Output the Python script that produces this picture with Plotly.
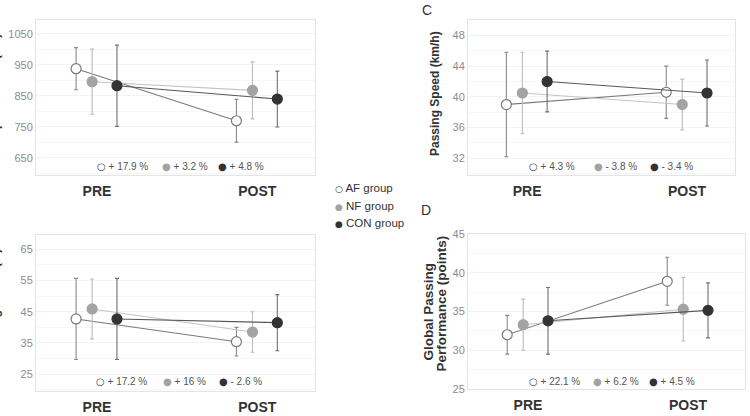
import plotly.graph_objects as go

W, H = 750, 416

groups = ["AF group", "NF group", "CON group"]
phases = ["PRE", "POST"]

# Panel A: response time (ms)
A_pre = [938, 896, 883]
A_post = [770, 868, 840]
A_pre_sd = [68, 105, 131]
A_post_sd = [69, 92, 90]
A_pct = ["+ 17.9 %", "+ 3.2 %", "+ 4.8 %"]

# Panel B: passing errors
B_pre = [42.7, 45.9, 42.7]
B_post = [35.4, 38.5, 41.5]
B_pre_sd = [13.0, 9.6, 13.0]
B_post_sd = [4.6, 6.5, 9.0]
B_pct = ["+ 17.2 %", "+ 16 %", "- 2.6 %"]

# Panel C: passing speed (km/h)
C_pre = [39.0, 40.5, 42.0]
C_post = [40.6, 39.0, 40.5]
C_pre_sd = [6.8, 5.3, 3.95]
C_post_sd = [3.4, 3.3, 4.3]
C_pct = ["+ 4.3 %", "- 3.8 %", "- 3.4 %"]

# Panel D: global passing performance (points)
D_pre = [32.0, 33.3, 33.8]
D_post = [38.9, 35.3, 35.15]
D_pre_sd = [2.5, 3.3, 4.3]
D_post_sd = [3.1, 4.1, 3.55]
D_pct = ["+ 22.1 %", "+ 6.2 %", "+ 4.5 %"]

FONT = "Liberation Sans, Arial, sans-serif"
SYMFONT = "DejaVu Sans"
offsets = [-0.13, -0.03, 0.125]
line_col = ["#7a7a7a", "#c4c4c4", "#585858"]
mk_fill = ["white", "#a3a3a3", "#333333"]
mk_line = ["#7a7a7a", "#a3a3a3", "#333333"]
err_col = ["#8a8a8a", "#bdbdbd", "#707070"]
sym_col = ["#444444", "#a3a3a3", "#333333"]
sym = ["○", "●", "●"]

panels = [
    ("A", A_pre, A_post, A_pre_sd, A_post_sd, A_pct, (36, 315, 20, 175), [595, 1095], [650, 750, 850, 950, 1050], 50,
     [-0.38, 1.36], 166.7, [98, 163, 219]),
    ("B", B_pre, B_post, B_pre_sd, B_post_sd, B_pct, (36, 315, 235, 391), [19.6, 69.6], [25, 35, 45, 55, 65], 5,
     [-0.38, 1.36], 381, [97, 164, 220]),
    ("C", C_pre, C_post, C_pre_sd, C_post_sd, C_pct, (468, 735, 20, 175), [29.83, 50], [32, 36, 40, 44, 48], 2,
     [-0.37, 1.30], 166.7, [530, 595, 651]),
    ("D", D_pre, D_post, D_pre_sd, D_post_sd, D_pct, (468, 745, 234, 389), [25, 45], [25, 30, 35, 40, 45], 2.5,
     [-0.375, 1.356], 381.7, [530, 594, 650]),
]

fig = go.Figure()
layout = dict(
    width=W, height=H, margin=dict(l=0, r=0, t=0, b=0),
    paper_bgcolor="white", plot_bgcolor="white", showlegend=False,
    template="none", font=dict(family=FONT),
)
annotations = []

for i, (name, pre, post, pre_sd, post_sd, pct, frame, yr, yt, minor, xr, pct_y, pct_x) in enumerate(panels):
    n = "" if i == 0 else str(i + 1)
    xa, ya = "x" + n, "y" + n
    x0, x1, y0, y1 = frame
    for g in range(3):
        fig.add_trace(go.Scatter(
            x=[0 + offsets[g], 1 + offsets[g]], y=[pre[g], post[g]],
            mode="lines+markers", xaxis=xa, yaxis=ya, name=groups[g],
            line=dict(color=line_col[g], width=1.1),
            marker=dict(size=10, color=mk_fill[g], line=dict(color=mk_line[g], width=1.2)),
            error_y=dict(type="data", array=[pre_sd[g], post_sd[g]], color=err_col[g], thickness=1.1, width=2),
            cliponaxis=False,
        ))
    layout["xaxis" + n] = dict(
        domain=[x0 / W, x1 / W], range=xr, anchor=ya, automargin=False,
        tickvals=[0, 1], ticktext=phases, ticks="", showgrid=False, zeroline=False,
        tickfont=dict(family=FONT, size=14, color="#333333", weight="bold"),
        showline=True, mirror=True, linecolor="#e4e4e4", linewidth=1, ticklabelstandoff=3,
    )
    layout["yaxis" + n] = dict(
        domain=[1 - y1 / H, 1 - y0 / H], range=yr, anchor=xa, automargin=False,
        tickvals=yt, ticks="", zeroline=False, showgrid=True, gridcolor="#f3f3f3",
        minor=dict(dtick=minor, tick0=yt[0], showgrid=True, gridcolor="#f6f6f6"),
        tickfont=dict(family=FONT, size=11, color="#8c8c8c"),
        showline=True, mirror=True, linecolor="#e4e4e4", linewidth=1,
    )
    for g in range(3):
        annotations.append(dict(
            xref="paper", yref="paper", x=(pct_x[g] - 3) / W, y=1 - pct_y / H,
            xanchor="left", yanchor="middle", showarrow=False,
            text=(f"<span style='color:{sym_col[g]}; font-family:{SYMFONT}; font-size:10px'>{sym[g]}</span>"
                  f" {pct[g]}"),
            font=dict(family=FONT, size=10, color="#555555"),
        ))

# y-axis titles (the two on the left are cut by the image edge, as in the reference)
ytitles = [
    ("Response Time (ms)", -5, 93, 12),
    ("Passing Errors (%)", -5, 303, 12),
    ("Passing Speed (km/h)", 435, 93, 12),
    ("Global Passing", 427.5, 311, 13.5),
    ("Performance (points)", 440.5, 304, 13.5),
]
for t, px, py, fs in ytitles:
    annotations.append(dict(
        xref="paper", yref="paper", x=px / W, y=1 - py / H, textangle=-90,
        xanchor="center", yanchor="middle", showarrow=False, text=f"<b>{t}</b>",
        font=dict(family=FONT, size=fs, color="#333333"),
    ))

# panel letters
for letter, px, py in [("C", 427, 10), ("D", 426, 210)]:
    annotations.append(dict(
        xref="paper", yref="paper", x=px / W, y=1 - py / H, xanchor="center", yanchor="middle",
        showarrow=False, text=letter, font=dict(family=FONT, size=14, color="#333333"),
    ))

# group legend
leg_y = [188, 205.5, 223]
leg_col = ["#333333", "#a3a3a3", "#333333"]
for g in range(3):
    annotations.append(dict(
        xref="paper", yref="paper", x=333 / W, y=1 - leg_y[g] / H, xanchor="left", yanchor="middle",
        showarrow=False,
        text=(f"<span style='color:{leg_col[g]}; font-family:{SYMFONT}; font-size:9px'>{sym[g]}</span>"
              f" {groups[g]}"),
        font=dict(family=FONT, size=11.5, color="#333333"),
    ))

layout["annotations"] = annotations
fig.update_layout(**layout)
fig.write_html("out.html")
